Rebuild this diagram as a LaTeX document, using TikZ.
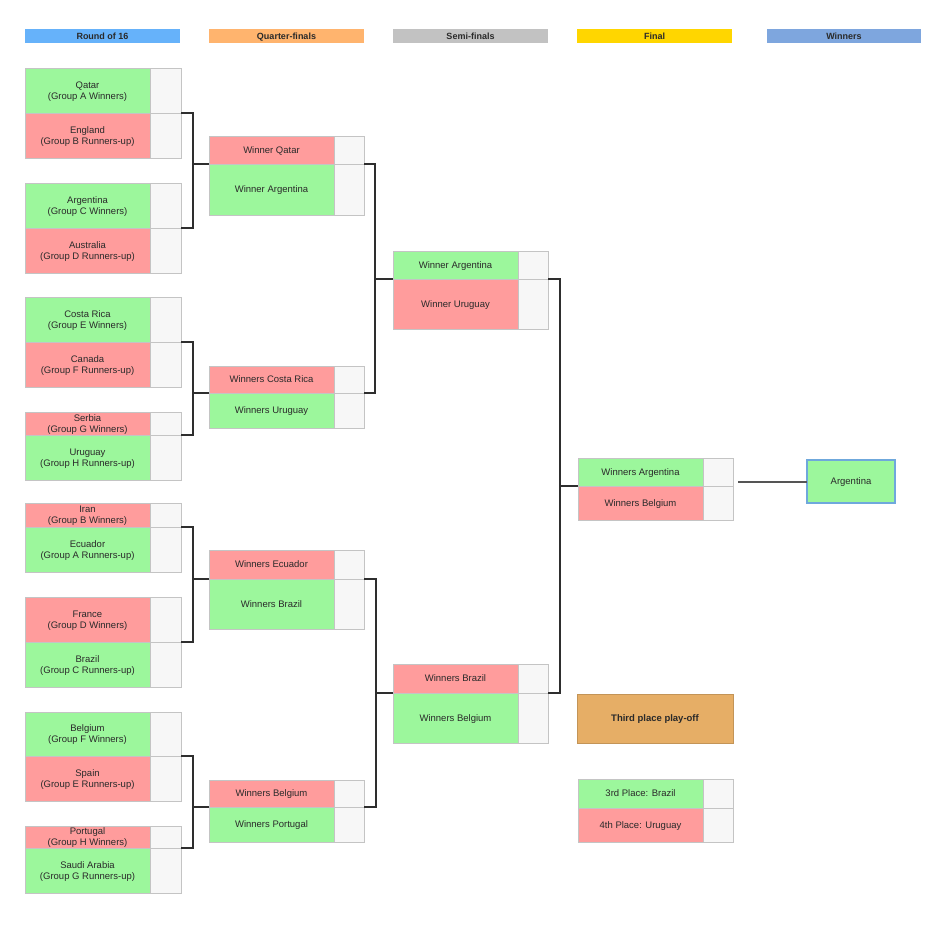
\documentclass[tikz,border=0pt]{standalone}
\usepackage{fontspec}
\setmainfont{Liberation Sans}
\definecolor{tgreen}{HTML}{9CF79C}
\definecolor{tred}{HTML}{FF9C9C}
\definecolor{sfill}{HTML}{F7F7F7}
\definecolor{bline}{HTML}{C4C4C4}
\definecolor{txt}{HTML}{2A2A2A}
\definecolor{hblue}{HTML}{66B2FA}
\definecolor{horange}{HTML}{FFB46E}
\definecolor{hgray}{HTML}{C2C2C2}
\definecolor{hgold}{HTML}{FFD600}
\definecolor{hwin}{HTML}{7EA6DE}
\definecolor{tan}{HTML}{E6AE66}
\definecolor{winline}{HTML}{6FA8DC}
\definecolor{conncol}{HTML}{2E2E2E}
\definecolor{wincol}{HTML}{555555}
\begin{document}
\begin{tikzpicture}[x=1pt,y=-1pt,
  box/.style={draw=bline, line width=0.6pt, inner sep=0pt, outer sep=0pt, anchor=north west,
    align=center, font=\fontsize{9.5}{11}\selectfont, text=txt},
  one/.style={text height=8.8pt, text depth=2pt},
  tbox/.style={box, minimum width=125pt, text depth=-0.8pt},
  gbox/.style={tbox, fill=tgreen},
  rbox/.style={tbox, fill=tred},
  sbox/.style={box, fill=sfill, minimum width=31pt},
  qbox/.style={box, fill=sfill, minimum width=30pt},
  hdr/.style={inner sep=0pt, outer sep=0pt, anchor=north west, minimum width=155pt,
    minimum height=14pt, text height=8.3pt, text depth=2pt,
    font=\fontsize{9}{10}\selectfont\bfseries, text=txt},
  conn/.style={draw=conncol, line width=1.4pt},
]
\useasboundingbox (0,0) rectangle (945,933);
\fill[white] (0,0) rectangle (945,933);

% headers
\node[hdr, fill=hblue] (h1) at (25,29) {Round of 16};
\node[hdr, fill=horange] (h2) at (209,29) {Quarter-finals};
\node[hdr, fill=hgray] (h3) at (393,29) {Semi-finals};
\node[hdr, fill=hgold] (h4) at (577,29) {Final};
\node[hdr, fill=hwin, minimum width=154pt] (h5) at (767,29) {Winners};

% round of 16
\node[gbox, minimum height=45pt] (qat) at (25,68) {Qatar\\(Group A Winners)};
\node[sbox, minimum height=45pt] (qatS) at (qat.north east) {};
\node[rbox, minimum height=45pt] (eng) at (25,113) {England\\(Group B Runners-up)};
\node[sbox, minimum height=45pt] (engS) at (eng.north east) {};
\node[gbox, minimum height=45pt] (arg) at (25,183) {Argentina\\(Group C Winners)};
\node[sbox, minimum height=45pt] (argS) at (arg.north east) {};
\node[rbox, minimum height=45pt] (aus) at (25,228) {Australia\\(Group D Runners-up)};
\node[sbox, minimum height=45pt] (ausS) at (aus.north east) {};

\node[gbox, minimum height=45pt] (crc) at (25,297) {Costa Rica\\(Group E Winners)};
\node[sbox, minimum height=45pt] (crcS) at (crc.north east) {};
\node[rbox, minimum height=45pt] (can) at (25,342) {Canada\\(Group F Runners-up)};
\node[sbox, minimum height=45pt] (canS) at (can.north east) {};
\node[rbox, minimum height=23pt] (ser) at (25,412) {Serbia\\(Group G Winners)};
\node[sbox, minimum height=23pt] (serS) at (ser.north east) {};
\node[gbox, minimum height=45pt] (uru) at (25,435) {Uruguay\\(Group H Runners-up)};
\node[sbox, minimum height=45pt] (uruS) at (uru.north east) {};

\node[rbox, minimum height=24pt] (irn) at (25,503) {Iran\\(Group B Winners)};
\node[sbox, minimum height=24pt] (irnS) at (irn.north east) {};
\node[gbox, minimum height=45pt] (ecu) at (25,527) {Ecuador\\(Group A Runners-up)};
\node[sbox, minimum height=45pt] (ecuS) at (ecu.north east) {};
\node[rbox, minimum height=45pt] (fra) at (25,597) {France\\(Group D Winners)};
\node[sbox, minimum height=45pt] (fraS) at (fra.north east) {};
\node[gbox, minimum height=45pt] (bra) at (25,642) {Brazil\\(Group C Runners-up)};
\node[sbox, minimum height=45pt] (braS) at (bra.north east) {};

\node[gbox, minimum height=44pt] (bel) at (25,712) {Belgium\\(Group F Winners)};
\node[sbox, minimum height=44pt] (belS) at (bel.north east) {};
\node[rbox, minimum height=45pt] (esp) at (25,756) {Spain\\(Group E Runners-up)};
\node[sbox, minimum height=45pt] (espS) at (esp.north east) {};
\node[rbox, minimum height=22pt] (por) at (25,826) {Portugal\\(Group H Winners)};
\node[sbox, minimum height=22pt] (porS) at (por.north east) {};
\node[gbox, minimum height=45pt] (ksa) at (25,848) {Saudi Arabia\\(Group G Runners-up)};
\node[sbox, minimum height=45pt] (ksaS) at (ksa.north east) {};

% quarter-finals
\node[rbox, one, minimum height=28pt] (q1a) at (209,136) {Winner Qatar};
\node[qbox, minimum height=28pt] (q1aS) at (q1a.north east) {};
\node[gbox, one, minimum height=51pt] (q1b) at (209,164) {Winner Argentina};
\node[qbox, minimum height=51pt] (q1bS) at (q1b.north east) {};

\node[rbox, one, minimum height=27pt] (q2a) at (209,366) {Winners Costa Rica};
\node[qbox, minimum height=27pt] (q2aS) at (q2a.north east) {};
\node[gbox, one, minimum height=35pt] (q2b) at (209,393) {Winners Uruguay};
\node[qbox, minimum height=35pt] (q2bS) at (q2b.north east) {};

\node[rbox, one, minimum height=29pt] (q3a) at (209,550) {Winners Ecuador};
\node[qbox, minimum height=29pt] (q3aS) at (q3a.north east) {};
\node[gbox, one, minimum height=50pt] (q3b) at (209,579) {Winners Brazil};
\node[qbox, minimum height=50pt] (q3bS) at (q3b.north east) {};

\node[rbox, one, minimum height=27pt] (q4a) at (209,780) {Winners Belgium};
\node[qbox, minimum height=27pt] (q4aS) at (q4a.north east) {};
\node[gbox, one, minimum height=35pt] (q4b) at (209,807) {Winners Portugal};
\node[qbox, minimum height=35pt] (q4bS) at (q4b.north east) {};

% semi-finals
\node[gbox, one, minimum height=28pt] (s1a) at (393,251) {Winner Argentina};
\node[qbox, minimum height=28pt] (s1aS) at (s1a.north east) {};
\node[rbox, one, minimum height=50pt] (s1b) at (393,279) {Winner Uruguay};
\node[qbox, minimum height=50pt] (s1bS) at (s1b.north east) {};

\node[rbox, one, minimum height=29pt] (s2a) at (393,664) {Winners Brazil};
\node[qbox, minimum height=29pt] (s2aS) at (s2a.north east) {};
\node[gbox, one, minimum height=50pt] (s2b) at (393,693) {Winners Belgium};
\node[qbox, minimum height=50pt] (s2bS) at (s2b.north east) {};

% final
\node[gbox, one, minimum height=28pt] (fa) at (578,458) {Winners Argentina};
\node[qbox, minimum height=28pt] (faS) at (fa.north east) {};
\node[rbox, one, minimum height=34pt] (fb) at (578,486) {Winners Belgium};
\node[qbox, minimum height=34pt] (fbS) at (fb.north east) {};

% third place
\node[box, one, fill=tan, draw=tan!85!black, minimum width=156pt, minimum height=49pt,
  font=\fontsize{9.5}{11}\selectfont\bfseries] (tp) at (577,694) {Third place play-off};
\node[gbox, one, minimum height=29pt] (p3) at (578,779) {3rd Place: Brazil};
\node[qbox, minimum height=29pt] (p3S) at (p3.north east) {};
\node[rbox, one, minimum height=34pt] (p4) at (578,808) {4th Place: Uruguay};
\node[qbox, minimum height=34pt] (p4S) at (p4.north east) {};

% winner
\node[box, one, fill=tgreen, draw=winline, line width=1.5pt, minimum width=88pt, minimum height=43pt] (win) at (807,460) {Argentina};
\coordinate (wl) at (738,482);

% connectors
\draw[conn] (engS.north east) -- ++(12,0) |- (ausS.north east);
\draw[conn] (q1b.north west) -- ++(-16,0);
\draw[conn] (canS.north east) -- ++(12,0) |- (uruS.north east);
\draw[conn] (q2b.north west) -- ++(-16,0);
\draw[conn] (ecuS.north east) -- ++(12,0) |- (braS.north east);
\draw[conn] (q3b.north west) -- ++(-16,0);
\draw[conn] (espS.north east) -- ++(12,0) |- (ksaS.north east);
\draw[conn] (q4b.north west) -- ++(-16,0);

\draw[conn] (q1bS.north east) -- ++(11,0) |- (q2bS.north east);
\draw[conn] (s1b.north west) -- ++(-18,0);
\draw[conn] (q3bS.north east) -- ++(12,0) |- (q4bS.north east);
\draw[conn] (s2b.north west) -- ++(-17,0);

\draw[conn] (s1bS.north east) -- ++(12,0) |- (s2bS.north east);
\draw[conn] (fb.north west) -- ++(-17,0);

\draw[draw=wincol, line width=1.5pt] (wl) -- (wl -| win.west);
\end{tikzpicture}
\end{document}
